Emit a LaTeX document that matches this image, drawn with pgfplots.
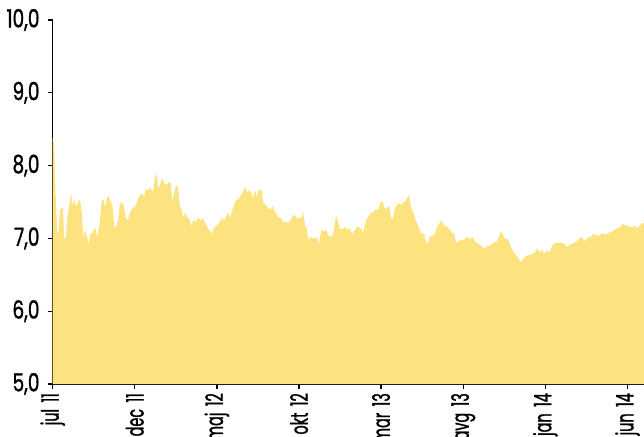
\documentclass[border=0pt]{standalone}
\usepackage{fontspec}
\setmainfont{Poppins}[FakeStretch=0.74, FakeBold=1.2, WordSpace=1.4]
\newfontfamily\xfont{Poppins}[FakeStretch=0.6, FakeBold=1.2, WordSpace=1.7]
\usepackage{pgfplots}
\pgfplotsset{compat=1.18}
\definecolor{fillyellow}{RGB}{253,226,128}
\begin{document}
\fontsize{25bp}{28bp}\selectfont
\begin{tikzpicture}
\begin{axis}[
  scale only axis,
  width=591.3bp, height=364bp,
  xmin=0, xmax=36.01,
  ymin=5, ymax=10,
  axis x line=bottom, axis y line=left,
  axis line style={-, line width=1.5pt, black},
  tick style={line width=1.3pt, black},
  tick align=outside,
  major tick length=5bp,
  xtick={0,5,10,15,20,25,30,35},
  xticklabels={jul 11, dec 11, maj 12, okt 12, mar 13, avg 13, jan 14, jun 14},
  x tick label style={rotate=90, anchor=east, inner sep=4bp, font=\xfont\fontsize{24bp}{28bp}\selectfont},
  ytick={5,6,7,8,9,10},
  y tick label style={font=\fontsize{25bp}{28bp}\selectfont, inner sep=2bp, xshift=-6bp},
  yticklabel style={/pgf/number format/.cd, fixed, fixed zerofill, precision=1, use comma, assume math mode=true},
  clip=true,
]
\addplot[fill=fillyellow, draw=none] coordinates {
(0.00,8.38) (0.08,8.30) (0.17,7.60) (0.20,7.55) (0.26,7.12) (0.35,7.05) (0.44,7.39) (0.63,7.42) (0.69,7.00) (0.81,7.02)
(0.87,7.25) (0.99,7.42) (1.11,7.62) (1.24,7.43) (1.30,7.55) (1.42,7.43) (1.54,7.50) (1.66,7.53) (1.78,7.35) (1.85,7.00)
(1.97,7.12) (2.09,7.02) (2.21,6.91) (2.27,7.05) (2.45,7.09) (2.58,7.16) (2.70,7.02) (2.82,7.14) (3.00,7.53) (3.12,7.53)
(3.18,7.43) (3.37,7.60) (3.49,7.53) (3.67,7.43) (3.73,7.18) (3.85,7.14) (3.98,7.25) (4.10,7.50) (4.22,7.46) (4.28,7.50)
(4.46,7.28) (4.59,7.25) (4.71,7.36) (4.89,7.42) (5.01,7.43) (5.13,7.50) (5.26,7.57) (5.44,7.62) (5.56,7.57) (5.68,7.68)
(5.80,7.66) (5.93,7.70) (6.11,7.64) (6.23,7.84) (6.35,7.90) (6.41,7.69) (6.53,7.73) (6.66,7.83) (6.78,7.76) (6.96,7.73)
(7.08,7.78) (7.20,7.76) (7.27,7.50) (7.39,7.62) (7.51,7.73) (7.63,7.71) (7.75,7.42) (7.88,7.39) (7.94,7.28) (8.12,7.36)
(8.18,7.29) (8.30,7.28) (8.48,7.16) (8.54,7.25) (8.73,7.23) (8.85,7.28) (9.03,7.25) (9.15,7.28) (9.28,7.21) (9.40,7.16)
(9.52,7.12) (9.70,7.06) (9.76,7.12) (9.88,7.16) (10.01,7.18) (10.13,7.21) (10.31,7.28) (10.43,7.25) (10.55,7.29) (10.68,7.36)
(10.80,7.28) (10.98,7.42) (11.10,7.50) (11.22,7.53) (11.41,7.57) (11.59,7.64) (11.71,7.71) (11.83,7.64) (12.02,7.66) (12.20,7.55)
(12.32,7.66) (12.44,7.57) (12.56,7.68) (12.75,7.64) (12.81,7.49) (12.99,7.46) (13.11,7.42) (13.30,7.39) (13.36,7.45) (13.48,7.39)
(13.60,7.35) (13.72,7.29) (13.90,7.28) (14.03,7.23) (14.21,7.23) (14.33,7.21) (14.51,7.25) (14.63,7.32) (14.76,7.31) (14.88,7.27)
(15.00,7.28) (15.18,7.29) (15.24,7.38) (15.37,7.18) (15.49,7.12) (15.55,6.98) (15.73,7.02) (15.85,7.00) (15.97,7.00) (16.10,7.02)
(16.22,6.91) (16.28,7.02) (16.40,7.13) (16.52,7.09) (16.65,7.12) (16.77,7.05) (16.89,7.03) (17.01,7.02) (17.13,7.12) (17.26,7.32)
(17.38,7.23) (17.50,7.13) (17.68,7.13) (17.80,7.16) (17.93,7.12) (18.11,7.14) (18.23,7.05) (18.29,7.07) (18.47,7.14) (18.59,7.16)
(18.78,7.14) (18.90,7.07) (19.08,7.25) (19.20,7.29) (19.38,7.35) (19.51,7.36) (19.69,7.40) (19.81,7.39) (19.99,7.51) (20.11,7.50)
(20.24,7.40) (20.36,7.42) (20.48,7.45) (20.60,7.28) (20.72,7.27) (20.85,7.42) (20.97,7.46) (21.09,7.49) (21.21,7.46) (21.34,7.49)
(21.46,7.51) (21.58,7.55) (21.70,7.60) (21.82,7.42) (21.95,7.36) (22.07,7.27) (22.19,7.21) (22.31,7.14) (22.43,7.07) (22.62,7.07)
(22.74,6.94) (22.86,6.94) (22.98,7.03) (23.16,7.03) (23.29,7.07) (23.41,7.16) (23.53,7.20) (23.71,7.25) (23.83,7.18) (24.02,7.16)
(24.20,7.12) (24.32,7.07) (24.44,7.07) (24.56,6.94) (24.69,6.95) (24.81,6.98) (24.99,6.98) (25.11,6.99) (25.23,7.02) (25.42,6.99)
(25.60,7.02) (25.72,6.95) (25.84,6.94) (26.02,6.91) (26.21,6.88) (26.33,6.85) (26.45,6.90) (26.63,6.90) (26.81,6.94) (26.94,6.95)
(27.06,6.96) (27.18,7.03) (27.30,7.09) (27.42,7.05) (27.55,6.99) (27.67,7.00) (27.79,6.95) (27.97,6.85) (28.09,6.81) (28.22,6.76)
(28.34,6.74) (28.46,6.68) (28.58,6.69) (28.70,6.73) (28.83,6.76) (28.95,6.77) (29.13,6.77) (29.25,6.80) (29.37,6.80) (29.50,6.87)
(29.62,6.81) (29.80,6.84) (29.92,6.79) (30.11,6.83) (30.29,6.81) (30.41,6.90) (30.59,6.94) (30.72,6.94) (30.90,6.94) (31.02,6.94)
(31.20,6.92) (31.32,6.88) (31.45,6.91) (31.57,6.92) (31.75,6.94) (31.93,6.96) (32.05,6.99) (32.18,7.02) (32.30,6.99) (32.48,6.96)
(32.60,7.02) (32.78,7.02) (32.91,7.06) (33.09,7.05) (33.21,7.03) (33.39,7.06) (33.51,7.07) (33.70,7.05) (33.82,7.07) (34.00,7.09)
(34.12,7.10) (34.31,7.13) (34.43,7.14) (34.61,7.16) (34.67,7.20) (34.85,7.18) (34.98,7.18) (35.16,7.16) (35.28,7.16) (35.47,7.17)
(35.59,7.14) (35.77,7.18) (35.89,7.21) (36.01,7.21)
} \closedcycle;
\end{axis}
\pgfresetboundingbox
\path ([xshift=-52.7bp,yshift=-53bp]current axis.south west) rectangle ([yshift=20bp]current axis.north east);
\end{tikzpicture}
\end{document}
